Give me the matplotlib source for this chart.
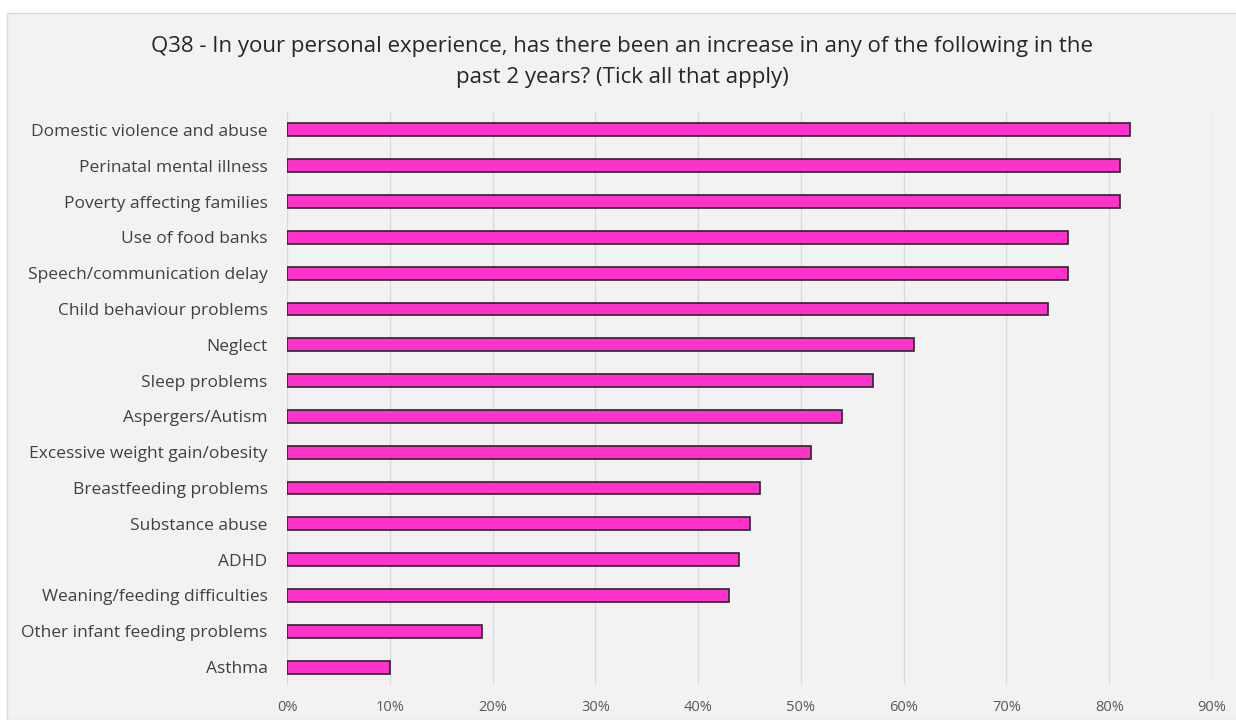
import matplotlib
matplotlib.use("Agg")
import matplotlib.pyplot as plt
from matplotlib.patches import Rectangle
from matplotlib.ticker import PercentFormatter

TITLE = ("Q38 - In your personal experience, has there been an increase in any of the following in the\n"
         "past 2 years? (Tick all that apply)")

categories = [
    "Domestic violence and abuse",
    "Perinatal mental illness",
    "Poverty affecting families",
    "Use of food banks",
    "Speech/communication delay",
    "Child behaviour problems",
    "Neglect",
    "Sleep problems",
    "Aspergers/Autism",
    "Excessive weight gain/obesity",
    "Breastfeeding problems",
    "Substance abuse",
    "ADHD",
    "Weaning/feeding difficulties",
    "Other infant feeding problems",
    "Asthma",
]
values = [0.82, 0.81, 0.81, 0.76, 0.76, 0.74, 0.61, 0.57, 0.54, 0.51, 0.46, 0.45, 0.44, 0.43, 0.19, 0.10]

PINK = "#ff33cc"
BG = "#f2f2f2"
plt.rcParams["font.family"] = ["Open Sans", "DejaVu Sans"]

fig = plt.figure(figsize=(12.36, 7.2), dpi=100, facecolor="white")
fig.patches.append(Rectangle((7 / 1236, 0), 1.0, 1 - 13 / 720, transform=fig.transFigure,
                             facecolor=BG, edgecolor="#d9d9d9", linewidth=1, zorder=-10))

ax = fig.add_axes([287 / 1236, 1 - 685 / 720, (1212 - 287) / 1236, (685 - 112) / 720])
ax.set_facecolor(BG)

y = range(len(categories))
ax.barh(y, values, height=0.36, color=PINK, edgecolor="#262626", linewidth=1.2, zorder=3)
ax.set_ylim(len(categories) - 0.5, -0.5)
ax.set_xlim(0, 0.9)
ax.set_xticks([i / 10 for i in range(10)])
ax.xaxis.set_major_formatter(PercentFormatter(1.0, decimals=0))
ax.set_yticks(list(y))
ax.set_yticklabels(categories)
ax.grid(axis="x", color="#d9d9d9", linewidth=1, zorder=0)
ax.set_axisbelow(True)
for s in ax.spines.values():
    s.set_visible(False)
ax.tick_params(axis="y", length=0, pad=14, labelsize=12.5, labelcolor="#404040")
ax.tick_params(axis="x", length=0, pad=11, labelsize=10.5, labelcolor="#595959")

fig.text(622 / 1236, 1 - 62 / 720, TITLE, ha="center", va="center", fontsize=16,
         color="#262626", linespacing=1.6)

fig.savefig("out.png", dpi=100, facecolor="white")
